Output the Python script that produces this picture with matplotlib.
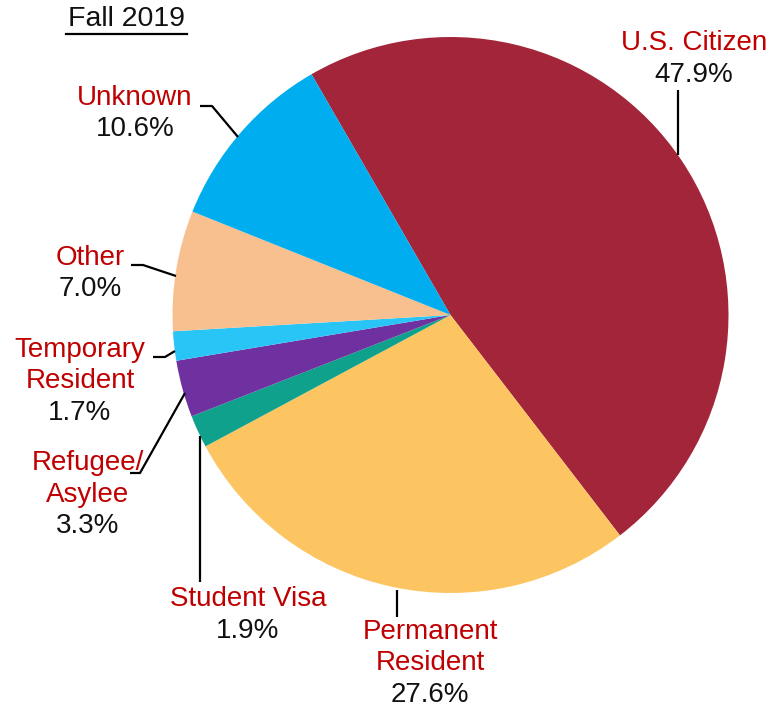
import matplotlib.pyplot as plt
import matplotlib as mpl

mpl.rcParams['font.family'] = ['Liberation Sans', 'DejaVu Sans']

# data
labels = ['U.S. Citizen', 'Permanent\nResident', 'Student Visa', 'Refugee/\nAsylee',
          'Temporary\nResident', 'Other', 'Unknown']
shares = [47.9, 27.6, 1.9, 3.3, 1.7, 7.0, 10.6]
colors = ['#A3253A', '#FDC562', '#0FA18B', '#7031A0', '#29C5F6', '#F9C08F', '#00AEEF']

red = '#C00000'
ink = '#111111'

fig = plt.figure(figsize=(7.67, 7.11), dpi=100)
ax = fig.add_axes([0, 0, 1, 1])
ax.set_xlim(0, 767)
ax.set_ylim(711, 0)
ax.axis('off')

# screen y grows downward, so counterclock in data == clockwise on screen
ax.pie(shares, colors=colors, startangle=-120, counterclock=True,
       center=(450.5, 315), radius=278, frame=True,
       wedgeprops=dict(linewidth=0))
ax.set_xlim(0, 767)
ax.set_ylim(711, 0)
ax.set_aspect('equal')

# label placement: (x, y of first line, alignment of name)
lab_pos = [(694, 43), (430, 632), (248, 599), (88, 463), (80, 350), (90, 258), (135, 98)]
leaders = [
    [(678, 90), (678, 155)],
    [(397, 590), (397, 617)],
    [(200, 436), (200, 582)],
    [(130, 473), (140, 473), (185, 393)],
    [(153, 357), (165, 357), (175, 351)],
    [(131, 265), (143, 265), (176, 276)],
    [(200, 106), (212, 106), (238, 137)],
]

fs = 20
lh = 31.5
for lab, val, (x, y), pts in zip(labels, shares, lab_pos, leaders):
    nlines = lab.count('\n') + 1
    for i, line in enumerate(lab.split('\n')):
        ax.text(x, y + i * lh, line, color=red, fontsize=fs, ha='center', va='center')
    ax.text(x, y + nlines * lh, f'{val:.1f}%', color=ink, fontsize=fs,
            ha='center', va='center')
    xs, ys = zip(*pts)
    ax.plot(xs, ys, color='black', lw=1.6, solid_capstyle='butt')

# title
ax.text(126, 19, 'Fall 2019', color=ink, fontsize=20.5, ha='center', va='center')
ax.plot([66, 187], [34, 34], color='black', lw=1.6)

fig.savefig('out.png', dpi=100)
